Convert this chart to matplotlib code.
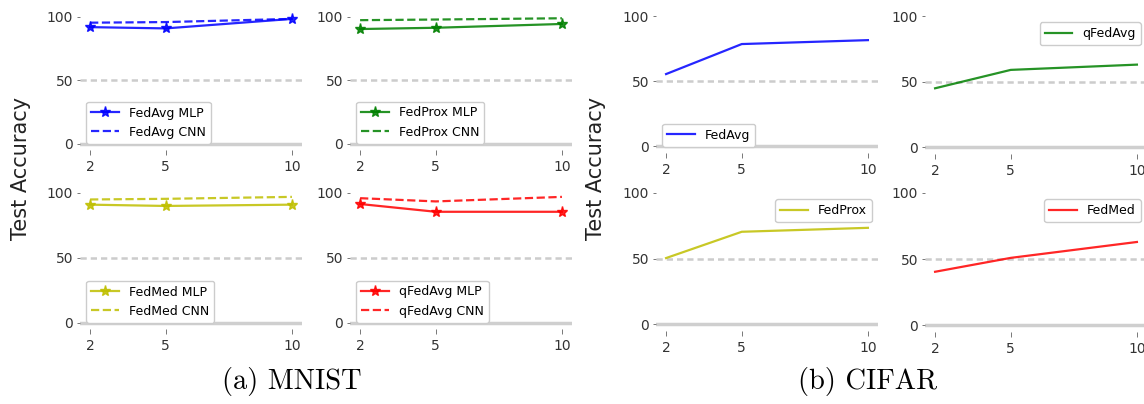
import matplotlib
matplotlib.use("Agg")
import matplotlib.pyplot as plt

clients = [2, 5, 10]

# MNIST (MLP solid with stars, CNN dashed)
mnist_fedavg_mlp = [92, 91, 98.5]
mnist_fedavg_cnn = [95.5, 96, 98.5]
mnist_fedprox_mlp = [90.5, 91.5, 94.5]
mnist_fedprox_cnn = [97.5, 98, 99]
mnist_fedmed_mlp = [91, 90, 91]
mnist_fedmed_cnn = [95, 95.5, 97]
mnist_qfedavg_mlp = [91.5, 85.5, 85.5]
mnist_qfedavg_cnn = [96, 93.5, 97]

# CIFAR
cifar_fedavg = [55.5, 78.5, 81.5]
cifar_qfedavg = [45, 59, 63]
cifar_fedprox = [50.5, 70.5, 73.5]
cifar_fedmed = [40.5, 51, 63]

W, H = 1144, 404
fig = plt.figure(figsize=(W / 100, H / 100), dpi=100)


def make_ax(x0, x1, y0, y1):
    ax = fig.add_axes([x0 / W, 1 - y1 / H, (x1 - x0) / W, (y1 - y0) / H])
    ax.set_ylim(-5, 100)
    ax.set_xlim(1.6, 10.4)
    for s in ax.spines.values():
        s.set_visible(False)
    ax.axhline(0, color='#cfcfcf', lw=2.5, zorder=1)
    ax.axhline(50, color='#cccccc', lw=1.8, ls='--', dashes=(2.5, 1.6), zorder=1)
    ax.set_xticks(clients)
    ax.set_yticks([0, 50, 100])
    ax.tick_params(axis='both', labelsize=10, labelcolor='#333333',
                   width=0.7, color='#777777')
    ax.tick_params(axis='x', length=3.5, pad=3.5)
    ax.tick_params(axis='y', length=2.5, pad=2.5)
    ax.set_facecolor('none')
    return ax


def mnist_panel(ax, mlp, cnn, color, name):
    ax.plot(clients, mlp, color=color, alpha=0.85, lw=1.6, marker='*',
            ms=8, label=name + ' MLP', clip_on=False, zorder=3)
    ax.plot(clients, cnn, color=color, alpha=0.85, lw=1.6, ls='--',
            label=name + ' CNN', clip_on=False, zorder=3)
    ax.legend(loc='lower left', fontsize=9, handlelength=2.2, framealpha=1)


def cifar_panel(ax, vals, color, name, loc):
    ax.plot(clients, vals, color=color, alpha=0.85, lw=1.6, label=name,
            clip_on=False, zorder=3)
    ax.legend(loc=loc, fontsize=9, handlelength=2.2, framealpha=1)


ax = make_ax(80, 302, 17, 150)
mnist_panel(ax, mnist_fedavg_mlp, mnist_fedavg_cnn, 'b', 'FedAvg')
ax = make_ax(350, 572, 17, 150)
mnist_panel(ax, mnist_fedprox_mlp, mnist_fedprox_cnn, 'g', 'FedProx')
ax = make_ax(80, 302, 193, 329)
mnist_panel(ax, mnist_fedmed_mlp, mnist_fedmed_cnn, 'y', 'FedMed')
ax = make_ax(350, 572, 193, 329)
mnist_panel(ax, mnist_qfedavg_mlp, mnist_qfedavg_cnn, 'r', 'qFedAvg')

ax = make_ax(656, 878, 16, 153)
cifar_panel(ax, cifar_fedavg, 'b', 'FedAvg', 'lower left')
ax = make_ax(925, 1147, 16, 154)
cifar_panel(ax, cifar_qfedavg, 'g', 'qFedAvg', 'upper right')
ax = make_ax(656, 878, 193, 331)
cifar_panel(ax, cifar_fedprox, 'y', 'FedProx', 'upper right')
ax = make_ax(925, 1147, 193, 332)
cifar_panel(ax, cifar_fedmed, 'r', 'FedMed', 'upper right')

fig.text(21 / W, 1 - 168 / H, 'Test Accuracy', rotation=90, fontsize=15,
         ha='center', va='center', color='#222222')
fig.text(596 / W, 1 - 168 / H, 'Test Accuracy', rotation=90, fontsize=15,
         ha='center', va='center', color='#222222')

fig.text(292 / W, 1 - 381 / H, '(a) MNIST', fontsize=20.5, family='cmr10',
         ha='center', va='center')
fig.text(868 / W, 1 - 381 / H, '(b) CIFAR', fontsize=20.5, family='cmr10',
         ha='center', va='center')

fig.savefig('out.png', dpi=100)
